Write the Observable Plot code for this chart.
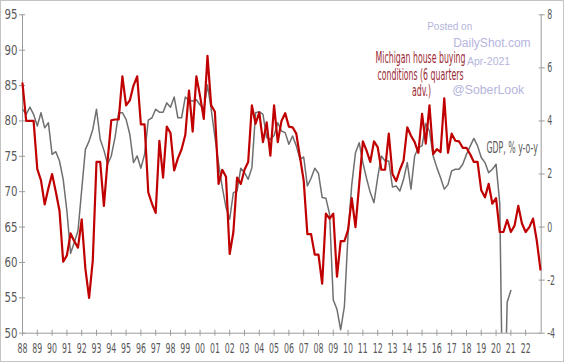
<!DOCTYPE html>
<html><head><meta charset="utf-8">
<script src="https://cdn.jsdelivr.net/npm/d3@7"></script>
<script src="https://cdn.jsdelivr.net/npm/@observablehq/plot@0.6"></script>
<style>
body{margin:0;background:#fff}
#frame{width:562px;height:360px;border:1px solid #c4c4c4;overflow:hidden;background:#fff}
</style></head><body><div id="frame"></div>
<script>
// ---- data (quarterly, first value = start of 1988) ----
const startYear = 1988;
const michigan = [85.3,80,80,80,73.2,71.6,68.2,70.5,72.5,70,
67.3,60.1,61,64.1,63,62.1,66.1,59.1,55,60.3,
74.2,74.2,68,74.4,80.1,80.2,80.2,86.3,82.2,82.9,
85,86.3,79.5,79.5,69.9,68.3,67,77.2,72,79.2,
78.3,73,74.7,76,78,84.3,78.5,86.3,83.5,80.3,
89.2,82.2,81.3,71.1,73.1,72.1,61.2,64.3,72,71.1,
73.1,74.2,82.2,79.6,81.2,77,79.8,75.1,82.2,77,
80,81.1,79.2,79.1,78.2,74.9,71.6,64,64,61.1,
61.1,57,66.9,66.2,66.9,58,63,63,64.6,69.1,
65,71,77.1,75.8,74.2,77.1,76.3,73.1,73.1,78.2,
72.5,71.5,73.1,74.4,79.1,77.9,77,75.5,81,76.8,
82.2,75.3,76,75.6,83.2,75.5,78.2,77.2,77.1,76.2,
76.2,75.3,74.2,74.2,70.2,69.2,71.1,68.3,69.1,64.3,
64.3,66,64.3,65.2,68,65.5,64.3,65,66.2,63.1,59];
const gdp = [4.44,4.25,4.52,4.25,3.81,4.31,3.74,3.93,2.74,2.84,
2.49,1.80,0.61,-0.99,-0.58,-0.14,1.4,2.93,3.24,3.68,
4.44,3.31,2.9,2.37,2.68,3.37,4.31,4.31,4.06,3.50,
2.43,2.68,2.22,2.74,4.03,4.12,4.44,4.33,4.33,4.68,
4.52,4.9,4.12,4.12,4.9,4.77,4.75,4.8,4.6,4.45,
5.35,4.45,3.4,2.4,1.5,0.74,0.30,1.30,1.36,2.22,
2.05,1.80,2.24,4.31,4.35,4.25,3.37,3.3,3.45,3.93,
3.62,3.56,3.12,3.43,3.06,2.56,2.64,1.55,1.84,2.22,
2.02,1.11,1.09,0.49,-2.75,-3.1,-3.87,-3.0,-0.25,1.6,
2.8,3.18,2.43,1.83,1.3,0.92,1.86,2.68,2.49,2.49,
1.51,1.55,1.36,1.80,2.43,1.43,2.68,3.0,3.06,3.9,
3.62,2.68,2.24,1.86,1.43,1.6,2.12,2.18,2.18,2.37,
2.74,3.05,3.34,3.06,2.62,2.43,2.05,2.18,2.37,0.9,
-9,-2.83,-2.39];
const leftTicks = [50,55,60,65,70,75,80,85,90,95];
const rightTicks = [-4,-2,0,2,4,6,8];
const yearTicks = d3.range(1988, 2023);
const annLines = ["Michigan house buying", "conditions (6 quarters", "adv.)"];
const gdpLabel = "GDP, % y-o-y";
const watermark = ["Posted on", "DailyShot.com", "Apr-2021", "@SoberLook"];

// ---- layout / style ----
const W = 562, H = 360;
const M = {left: 21, right: 22.3, top: 13.3, bottom: 28.3};
const xMax = 2023.05;
const condensed = '"Liberation Sans Narrow","Arial Narrow","DejaVu Sans Condensed","Roboto Condensed","Liberation Sans",sans-serif';
const axisColor = "#9b9b9b", labelColor = "#595959";
const wmColor = "#b5b5dd", wmFont = '"Liberation Sans",Arial,sans-serif';

const toLeft = g => 50 + (g + 4) * 45 / 12;
const fromLeft = v => (v - 50) * 12 / 45 - 4;
const michData = michigan.map((v, i) => ({date: startYear + i / 4, v}));
const gdpData = gdp.map((v, i) => ({date: startYear + i / 4, v: toLeft(v)}));

const note = (txt, anchor, dx, dy, o) => Plot.text([txt], {text: d => d, frameAnchor: anchor, dx, dy, lineAnchor: "middle", ...o});

const chart = Plot.plot({
  width: W, height: H,
  marginLeft: M.left, marginRight: M.right, marginTop: M.top, marginBottom: M.bottom,
  x: {domain: [1988, xMax]},
  y: {domain: [50, 95]},
  style: {fontFamily: condensed, fontSize: "14px", color: labelColor, background: "#fff", overflow: "visible"},
  marks: [
    // watermark
    note(watermark[0], "top-left", 404.7, 12, {textAnchor: "start", fill: wmColor, fontFamily: wmFont, fontSize: 10, ariaLabel: "watermark"}),
    note(watermark[1], "top-left", 430.7, 28.5, {textAnchor: "start", fill: wmColor, fontFamily: wmFont, fontSize: 12, ariaLabel: "watermark"}),
    note(watermark[2], "top-left", 444.5, 46.9, {textAnchor: "start", fill: wmColor, fontFamily: wmFont, fontSize: 10.5, ariaLabel: "watermark"}),
    note(watermark[3], "top-left", 429.7, 75.4, {textAnchor: "start", fill: wmColor, fontFamily: wmFont, fontSize: 12.3, ariaLabel: "watermark"}),
    // axes
    Plot.ruleX([1988], {stroke: axisColor}),
    Plot.ruleX([xMax], {stroke: axisColor}),
    Plot.ruleY([50], {stroke: axisColor}),
    Plot.axisY(leftTicks, {anchor: "left", tickSize: 6, dx: 3, tickFormat: () => "", stroke: axisColor, label: null}),
    Plot.axisY(leftTicks, {anchor: "left", tickSize: 0, tickPadding: 5, tickFormat: d => String(d), fill: labelColor, label: null}),
    Plot.axisY(rightTicks.map(toLeft), {anchor: "right", tickSize: 6, dx: -3, tickFormat: () => "", stroke: axisColor, label: null}),
    Plot.axisY(rightTicks.map(toLeft), {anchor: "right", tickSize: 0, tickPadding: 6, tickFormat: d => String(Math.round(fromLeft(d))), fill: labelColor, label: null}),
    Plot.axisX(yearTicks, {anchor: "bottom", tickSize: 6, dy: -3, tickFormat: () => "", stroke: axisColor, label: null}),
    Plot.axisX(yearTicks, {anchor: "bottom", tickSize: 0, tickPadding: 10, tickFormat: d => String(d % 100).padStart(2, "0"), fill: labelColor, label: null}),
    // series
    Plot.line(gdpData, {x: "date", y: "v", stroke: "#6f6f6f", strokeWidth: 1.5, clip: true}),
    Plot.line(michData, {x: "date", y: "v", stroke: "#c00000", strokeWidth: 2.2}),
    // annotations
    note(annLines[0], "top-left", 398, 43.5, {textAnchor: "middle", fill: "#9a2a33", fontSize: 15}),
    note(annLines[1], "top-left", 398, 60.2, {textAnchor: "middle", fill: "#9a2a33", fontSize: 15}),
    note(annLines[2], "top-left", 399, 76.5, {textAnchor: "middle", fill: "#9a2a33", fontSize: 15}),
    note(gdpLabel, "top-right", -3.4, 132.9, {textAnchor: "end", fill: labelColor, fontSize: 15})
  ]
});
document.getElementById("frame").append(chart);

// condense the narrow-font texts to the reference widths
const svgRect = chart.getBoundingClientRect();
const texts = [...chart.querySelectorAll("text")].filter(t => t.textContent && !watermark.includes(t.textContent));
const L = t => t.getComputedTextLength();
const find = s => texts.find(t => t.textContent === s);
const fAnn = 90 / L(find(annLines[0]));
const bottom = [], left = [], right = [], ann = [];
for (const t of texts) {
  if (annLines.includes(t.textContent) || t.textContent === gdpLabel) { ann.push(t); continue; }
  const r = t.getBoundingClientRect();
  if (r.top > svgRect.top + H - M.bottom) bottom.push(t);
  else if (r.right < svgRect.left + M.left + 1) left.push(t);
  else right.push(t);
}
const fB = 10 / L(bottom[0]);
const fL = 13 / L(left[left.length - 1]);
const squeeze = (list, f) => list.forEach(t => {
  t.setAttribute("textLength", (L(t) * f).toFixed(2));
  t.setAttribute("lengthAdjust", "spacingAndGlyphs");
});
squeeze(ann, fAnn); squeeze(bottom, fB); squeeze(left, fL); squeeze(right, fB);
</script>
</body></html>
